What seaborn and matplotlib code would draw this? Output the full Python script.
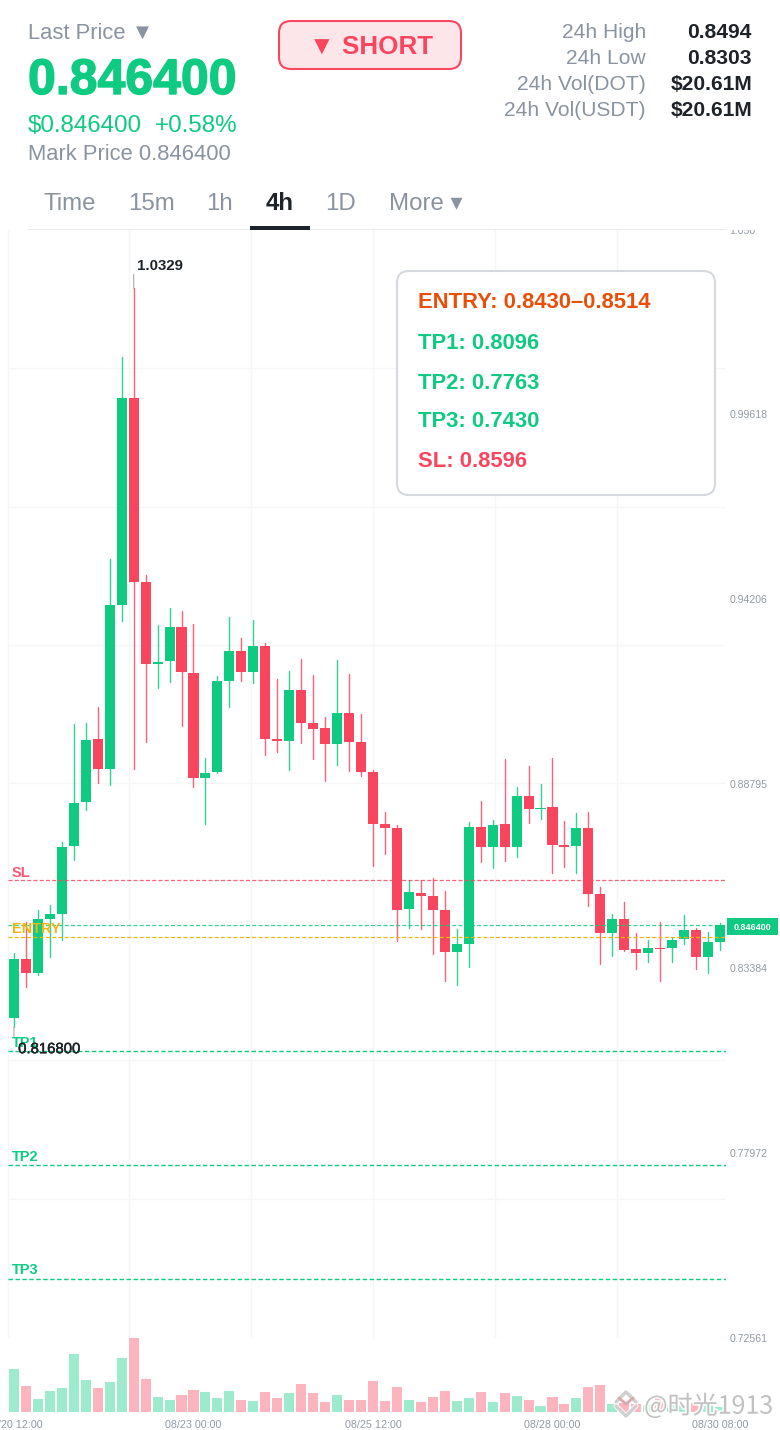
import matplotlib
matplotlib.use('Agg')
import matplotlib.pyplot as plt
from matplotlib.patches import FancyBboxPatch, Rectangle
import matplotlib.patheffects as pe
import seaborn as sns
import pandas as pd

# 4h candles, left to right
opens = [0.8193, 0.8365, 0.8325, 0.8483, 0.8497, 0.8696, 0.8825, 0.9010, 0.8922, 0.9402,
         1.0008, 0.9469, 0.9229, 0.9238, 0.9338, 0.9203, 0.8895, 0.8913, 0.9179, 0.9267,
         0.9206, 0.9282, 0.9010, 0.9004, 0.9153, 0.9056, 0.9042, 0.8995, 0.9086, 0.9001,
         0.8913, 0.8761, 0.8749, 0.8512, 0.8559, 0.8550, 0.8509, 0.8386, 0.8409, 0.8752,
         0.8693, 0.8761, 0.8693, 0.8843, 0.8805, 0.8811, 0.8699, 0.8696, 0.8749, 0.8556,
         0.8442, 0.8483, 0.8395, 0.8383, 0.8398, 0.8398, 0.8424, 0.8450, 0.8371, 0.8415]
closes = [0.8365, 0.8325, 0.8483, 0.8497, 0.8693, 0.8822, 0.9007, 0.8922, 0.9402, 1.0008,
          0.9469, 0.9229, 0.9235, 0.9338, 0.9206, 0.8895, 0.8910, 0.9179, 0.9267, 0.9206,
          0.9282, 0.9010, 0.9004, 0.9153, 0.9056, 0.9039, 0.8995, 0.9086, 0.9001, 0.8913,
          0.8761, 0.8749, 0.8509, 0.8562, 0.8550, 0.8509, 0.8386, 0.8409, 0.8752, 0.8693,
          0.8758, 0.8693, 0.8843, 0.8805, 0.8808, 0.8699, 0.8693, 0.8749, 0.8556, 0.8442,
          0.8483, 0.8392, 0.8383, 0.8398, 0.8395, 0.8421, 0.8450, 0.8371, 0.8415, 0.8464]
highs = [0.8383, 0.8474, 0.8509, 0.8524, 0.8708, 0.9054, 0.9056, 0.9103, 0.9537, 1.0128,
         1.0329, 0.9490, 0.9343, 0.9393, 0.9384, 0.9346, 0.8954, 0.9194, 0.9367, 0.9305,
         0.9358, 0.9291, 0.9185, 0.9209, 0.9244, 0.9197, 0.9074, 0.9241, 0.9200, 0.9083,
         0.8919, 0.8796, 0.8758, 0.8597, 0.8597, 0.8603, 0.8565, 0.8453, 0.8767, 0.8828,
         0.8772, 0.8951, 0.8869, 0.8931, 0.8878, 0.8954, 0.8770, 0.8793, 0.8796, 0.8576,
         0.8497, 0.8532, 0.8442, 0.8421, 0.8474, 0.8430, 0.8494, 0.8456, 0.8445, 0.8471]
lows = [0.8168, 0.8283, 0.8319, 0.8371, 0.8421, 0.8655, 0.8802, 0.8881, 0.8875, 0.9355,
        0.8922, 0.9001, 0.9159, 0.9177, 0.9048, 0.8869, 0.8761, 0.8910, 0.9103, 0.9179,
        0.9174, 0.8963, 0.8972, 0.8919, 0.8998, 0.8951, 0.8887, 0.8934, 0.8916, 0.8901,
        0.8638, 0.8673, 0.8418, 0.8456, 0.8453, 0.8380, 0.8301, 0.8289, 0.8342, 0.8650,
        0.8632, 0.8652, 0.8664, 0.8764, 0.8775, 0.8617, 0.8635, 0.8617, 0.8521, 0.8351,
        0.8374, 0.8390, 0.8336, 0.8357, 0.8301, 0.8357, 0.8409, 0.8336, 0.8325, 0.8392]
volumes = [43, 25.7, 13.3, 21, 24, 58, 31.7, 24, 30.3, 54.3,
           73.7, 33, 14.7, 12, 16.7, 21.7, 20, 14.3, 20.7, 12,
           11, 20, 14, 19, 28, 19, 9.7, 17, 12, 12,
           31, 11.3, 24.7, 11.7, 10.3, 14.7, 21.3, 10.7, 14, 20.3,
           10.3, 19.3, 16.3, 12, 5.7, 15, 7.7, 14.3, 25, 27,
           8, 8.7, 8, 7, 13.7, 8, 7, 8.7, 8.7, 5.3]

price_ticks = [1.050, 0.99618, 0.94206, 0.88795, 0.83384, 0.77972, 0.72561]
price_labels = ['1.050', '0.99618', '0.94206', '0.88795', '0.83384', '0.77972', '0.72561']
date_ticks = [0, 15, 30, 45, 59]
date_labels = ['08/20 12:00', '08/23 00:00', '08/25 12:00', '08/28 00:00', '08/30 08:00']

last_price = 0.8464
sl_level = 0.8596
entry_low = 0.8430
tp_levels = [0.8096, 0.7763, 0.7430]
tp_names = ['TP1', 'TP2', 'TP3']

GREEN = '#0ecb81'
RED = '#f9465f'
DARK = '#1e2329'
GRAY = '#8a93a0'
GRID = '#f6f6f6'
ORANGE = '#efb40f'

sns.set_theme(style='white')
plt.rcParams['font.family'] = ['Liberation Sans', 'DejaVu Sans']


def px(size):
    return size * 0.72


df = pd.DataFrame({'idx': range(len(opens)), 'open': opens, 'close': closes,
                   'high': highs, 'low': lows, 'volume': volumes})
df['side'] = ['up' if c >= o else 'down' for o, c in zip(df['open'], df['close'])]
df['body'] = (df['close'] - df['open']).abs()
df['base'] = df[['open', 'close']].min(axis=1)
palette = {'up': GREEN, 'down': RED}

wicks = pd.concat([df[['idx', 'side', 'high']].rename(columns={'high': 'price'}),
                   df[['idx', 'side', 'low']].rename(columns={'low': 'price'})])

fig = plt.figure(figsize=(7.8, 14.3), dpi=100)
W, H = 780, 1430
ax = fig.add_axes([8 / W, 1 - 1338 / H, 718 / W, 1108 / H])
vol = fig.add_axes([8 / W, 1 - 1412 / H, 718 / W, 74 / H])

sns.lineplot(data=wicks, x='idx', y='price', hue='side', units='idx', estimator=None,
             palette=palette, legend=False, lw=1.0, alpha=0.85, zorder=2, ax=ax)
for side, color in palette.items():
    g = df[df['side'] == side]
    sns.barplot(data=g, x='idx', y='body', bottom=g['base'].values, native_scale=True,
                color=color, saturation=1, width=0.84, errorbar=None, linewidth=0,
                zorder=3, ax=ax)

ax.set_xlim(-0.5, 59.5)
ax.set_ylim(0.72561, 1.05)
ax.set_xlabel('')
ax.set_ylabel('')
ax.yaxis.tick_right()
ax.set_yticks(price_ticks)
ax.set_yticklabels(price_labels, fontsize=px(10.5), color='#929aa5')
ax.set_yticks([1.0096, 0.9690, 0.9285, 0.8880, 0.8474, 0.8069, 0.7663], minor=True)
ax.set_xticks([9.63, 19.83, 30.03, 40.22, 50.41], minor=True)
ax.set_xticks([])
ax.grid(which='minor', color=GRID, lw=1, zorder=0)
ax.set_axisbelow(True)
ax.tick_params(which='both', length=0, pad=2.6)
for name, spine in ax.spines.items():
    spine.set_color(GRID)
    spine.set_linewidth(1)
    spine.set_visible(name in ('left', 'bottom'))

# signal levels
dash = (0, (3.2, 1.8))
ax.axhline(sl_level, color=RED, lw=0.9, ls=dash, alpha=0.85, zorder=4)
ax.axhline(entry_low, color=ORANGE, lw=0.9, ls=dash, zorder=4)
ax.axhline(last_price, color=GREEN, lw=0.9, ls=dash, alpha=0.85, zorder=4)
for lv in tp_levels:
    ax.axhline(lv, color=GREEN, lw=1.0, ls=dash, zorder=4)

label_kw = dict(xycoords='data', textcoords='offset points', fontsize=px(14.5),
                fontweight='bold', va='center', ha='left', zorder=6)
ax.annotate('SL', xy=(-0.17, sl_level), xytext=(0, 5.5), color=RED, alpha=0.9, **label_kw)
ax.annotate('ENTRY', xy=(-0.17, entry_low), xytext=(0, 6), color=ORANGE, **label_kw)
for lv, name in zip(tp_levels, tp_names):
    ax.annotate(name, xy=(-0.17, lv), xytext=(0, 6), color=GREEN, **label_kw)

# high / low markers
leader = dict(arrowstyle='-', color='#b5b5b5', lw=0.9, shrinkA=0, shrinkB=0)
hi_i, lo_i = df['high'].idxmax(), df['low'].idxmin()
ax.annotate('', xy=(hi_i, highs[hi_i]), xytext=(0, 10), textcoords='offset points', arrowprops=leader)
ax.annotate('', xy=(lo_i, lows[lo_i]), xytext=(0, -7.5), textcoords='offset points', arrowprops=leader)
ax.annotate('1.0329', xy=(hi_i, highs[hi_i]), xytext=(2.6, 16.3), textcoords='offset points',
            fontsize=px(15), fontweight='bold', color=DARK, va='center', zorder=6)
ax.annotate('0.816800', xy=(lo_i, lows[lo_i]), xytext=(3, -16.3), textcoords='offset points',
            fontsize=px(14.9), color=DARK, va='center', zorder=6,
            path_effects=[pe.withStroke(linewidth=0.35, foreground=DARK)])

# volume pane
sns.barplot(data=df, x='idx', y='volume', hue='side', palette=palette, native_scale=True,
            width=0.84, saturation=1, alpha=0.4, errorbar=None, legend=False, linewidth=0, ax=vol)
vol.set_xlim(-0.5, 59.5)
vol.set_ylim(0, 74)
vol.set_xlabel('')
vol.set_ylabel('')
vol.set_yticks([])
vol.set_xticks(date_ticks)
vol.set_xticklabels(date_labels, fontsize=px(10.8), color='#929aa5')
vol.tick_params(axis='x', length=0, pad=6)
for spine in vol.spines.values():
    spine.set_visible(False)

# header
head = fig.add_axes([0, 1 - 230 / H, 1, 230 / H], zorder=5, facecolor='white')
head.set_xlim(0, W)
head.set_ylim(230, 0)
head.set_xticks([])
head.set_yticks([])
for spine in head.spines.values():
    spine.set_visible(False)


def htext(x, y, s, size, color, weight='normal', ha='left', **kw):
    head.text(x, y, s, fontsize=px(size), color=color, fontweight=weight, ha=ha,
              va='center_baseline', **kw)


htext(28, 31, 'Last Price ▼', 22, GRAY)
htext(28, 76, '0.846400', 50, GREEN, 'bold',
      path_effects=[pe.withStroke(linewidth=1.0, foreground=GREEN)])
htext(28, 124, '$0.846400', 24.1, GREEN)
htext(155, 124, '+0.58%', 24.1, GREEN)
htext(28, 152, 'Mark Price 0.846400', 22, GRAY)

head.add_patch(FancyBboxPatch((279, 21), 182, 48, boxstyle='round,pad=0,rounding_size=12',
                              fc='#fde6e9', ec=RED, lw=1.5))
htext(371, 44.5, '▼ SHORT', 26, RED, 'bold', 'center')

stat_names = ['24h High', '24h Low', '24h Vol(DOT)', '24h Vol(USDT)']
stat_values = ['0.8494', '0.8303', '$20.61M', '$20.61M']
for y, name, val in zip([31, 57, 83, 109], stat_names, stat_values):
    htext(646, y, name, 21, GRAY, ha='right')
    htext(752, y, val, 21, DARK, 'bold', 'right')

tab_names = ['Time', '15m', '1h', '4h', '1D', 'More ▾']
tab_x = [44, 128, 206.5, 266, 325.5, 389]
for x, name in zip(tab_x, tab_names):
    active = name == '4h'
    htext(x, 201.5, name, 24, DARK if active else GRAY, 'bold' if active else 'normal')
head.add_patch(Rectangle((28, 228.5), 698, 1.5, fc='#e8eaed', ec='none'))
head.add_patch(Rectangle((250, 226), 60, 4, fc=DARK, ec='none'))

# overlay: signal box, price tag, watermark
top = fig.add_axes([0, 0, 1, 1], zorder=6, facecolor='none')
top.set_xlim(0, W)
top.set_ylim(H, 0)
top.axis('off')

top.add_patch(FancyBboxPatch((397, 271), 318, 224, boxstyle='round,pad=0,rounding_size=12',
                             fc='white', ec='#d5d9de', lw=1.5))
box_lines = ['ENTRY: 0.8430–0.8514', 'TP1: 0.8096', 'TP2: 0.7763', 'TP3: 0.7430', 'SL: 0.8596']
box_colors = ['#e8500a', GREEN, GREEN, GREEN, RED]
for y, s, c in zip([300.5, 341, 381, 419, 459], box_lines, box_colors):
    top.text(418, y, s, fontsize=px(22), fontweight='bold', color=c, va='center_baseline')

top.add_patch(Rectangle((727, 918), 51, 17, fc=GREEN, ec='none'))
top.text(752.5, 926.5, '0.846400', fontsize=px(9), fontweight='bold', color='white',
         ha='center', va='center_baseline')

halo = [pe.withStroke(linewidth=2.5, foreground='white')]
top.text(644, 1403.5, '@时光1913', fontsize=px(25), color='#bbbbbb', va='center_baseline',
         family=['Noto Sans CJK SC', 'DejaVu Sans'], path_effects=halo, alpha=0.9)
top.plot([616, 626, 636], [1402, 1392, 1402], color='#cfcfcf', lw=2.4,
         path_effects=[pe.withStroke(linewidth=3.6, foreground='white')])
top.plot([619, 626, 633], [1398, 1404, 1398], color='#d8a8ac', lw=2)
top.plot([616, 626, 636], [1406, 1416, 1406], color='#cfcfcf', lw=2.4,
         path_effects=[pe.withStroke(linewidth=3.6, foreground='white')])

fig.savefig('out.png', dpi=100)
